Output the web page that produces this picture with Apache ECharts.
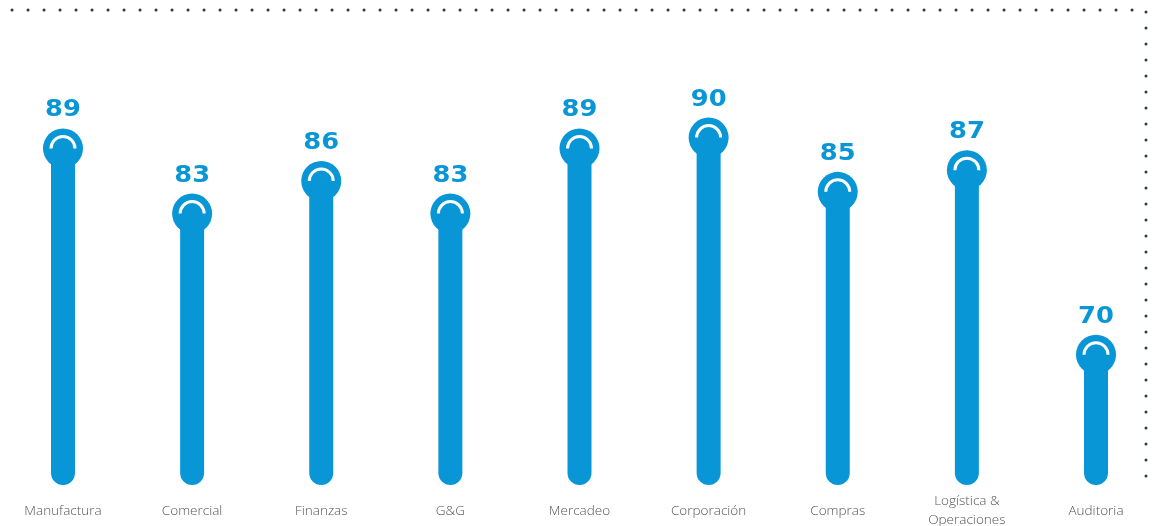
<!DOCTYPE html>
<html>
<head>
<meta charset="utf-8">
<script src="https://cdn.jsdelivr.net/npm/echarts@6/dist/echarts.min.js"></script>
<style>
    html, body { margin: 0; padding: 0; background: #fff; }
    #main { width: 1155px; height: 526px; }
</style>
</head>
<body>
<div id="main"></div>
<script>
// areas and scores
let areas = ['Manufactura', 'Comercial', 'Finanzas', 'G&G', 'Mercadeo', 'Corporación', 'Compras', 'Logística &\nOperaciones', 'Auditoria'];
let scores = [89, 83, 86, 83, 89, 90, 85, 87, 70];

let blue = '#0896d7';

let chart = echarts.init(document.getElementById('main'));

// cabeza del "lollipop": circulo azul con arco blanco y valor encima
function head(params, api) {
    let p = api.coord([api.value(0), api.value(1)]);
    return {
        type: 'group',
        children: [{
            type: 'circle',
            shape: { cx: p[0], cy: p[1], r: 20 },
            style: { fill: blue }
        }, {
            type: 'arc',
            shape: { cx: p[0], cy: p[1], r: 12, startAngle: Math.PI, endAngle: Math.PI * 2, clockwise: true },
            style: { stroke: '#fff', fill: null, lineWidth: 3 }
        }, {
            type: 'text',
            x: p[0],
            y: p[1] - 38,
            scaleX: 1.12,
            style: {
                text: String(api.value(1)),
                fill: blue,
                font: 'bold 23px "DejaVu Sans"',
                align: 'center',
                verticalAlign: 'middle'
            }
        }]
    };
}

let option = {
    animation: false,
    grid: {
        left: 63,
        right: 59,
        top: 29,
        bottom: 41,
        outerBoundsMode: 'none'
    },
    xAxis: {
        type: 'category',
        data: areas,
        boundaryGap: false,
        axisLine: { show: false },
        axisTick: { show: false },
        axisLabel: {
            interval: 0,
            margin: 26,
            verticalAlign: 'middle',
            color: '#555',
            fontFamily: 'Open Sans',
            fontWeight: 300,
            fontSize: 13.5,
            lineHeight: 19
        }
    },
    yAxis: {
        type: 'value',
        min: 58,
        max: 100,
        show: false,
        splitLine: { show: false }
    },
    graphic: [{
        type: 'polyline',
        shape: { points: [[12, 10], [1146, 10], [1146, 476]] },
        style: { stroke: '#2b3a4c', lineWidth: 3, lineDash: [0.1, 15.9], lineCap: 'round', fill: null }
    }],
    series: [{
        type: 'bar',
        data: scores,
        barWidth: 24,
        itemStyle: { color: blue, borderRadius: 12 }
    }, {
        type: 'custom',
        data: scores.map((v, i) => [i, v]),
        renderItem: head,
        z: 3
    }]
};
chart.setOption(option);
</script>
</body>
</html>
